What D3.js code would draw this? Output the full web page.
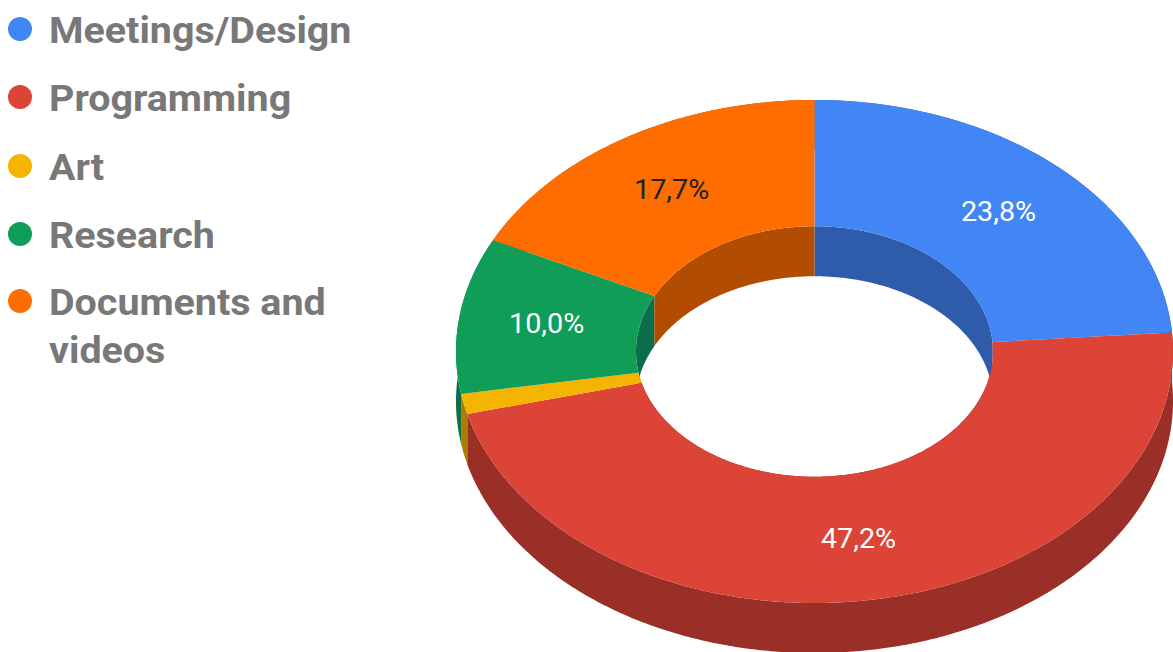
<!DOCTYPE html>
<html>
<head>
<meta charset="utf-8">
<script src="https://cdn.jsdelivr.net/npm/d3@7/dist/d3.min.js"></script>
<style>
  html, body { margin: 0; padding: 0; background: #fff; }
  svg { display: block; }
  text { font-family: Roboto, sans-serif; }
</style>
</head>
<body>
<svg id="chart" width="1173" height="652"></svg>
<script>
// Share of working time per activity, in percent
const categories = ["Meetings/Design", "Programming", "Art", "Research", "Documents and videos"];
const shares = [23.8, 47.2, 1.3, 10.0, 17.7];
const legendLines = [["Meetings/Design"], ["Programming"], ["Art"], ["Research"], ["Documents and", "videos"]];
const topColors = ["#4285f4", "#db4437", "#f4b400", "#0f9d58", "#ff6d00"];
const wallColors = ["#2e5cab", "#992f26", "#aa7e00", "#0a6e4a", "#b24c00"];
const labelColors = ["#ffffff", "#ffffff", "#ffffff", "#ffffff", "#222222"];

const width = 1173, height = 652;
const cx = 814.5, cy = 351.5, rx = 358.5, ry = 251.5;
const holeRatio = 0.498, labelRadius = 0.755, depth = 50;
const textStretch = 1.065; // the type is set slightly wide

const svg = d3.select("#chart").attr("viewBox", [0, 0, width, height]);

// Tilted ring: unit-circle coordinates are projected onto the screen ellipse
const px = d3.scaleLinear().domain([-1, 1]).range([cx - rx, cx + rx]);
const py = d3.scaleLinear().domain([-1, 1]).range([cy + ry, cy - ry]);
const pie = d3.pie().value(d => d).sort(null);
const slices = pie(shares);

const arcPts = (a0, a1, r, dy = 0) => {
  const n = Math.max(2, Math.ceil((a1 - a0) / 0.01));
  return d3.range(n + 1).map(i => {
    const a = a0 + (a1 - a0) * i / n;
    return [px(r * Math.sin(a)), py(r * Math.cos(a)) + dy];
  });
};
const line = d3.line();
const closed = pts => line(pts) + "Z";

// Inner walls sit at the back, then the outer walls, then the top faces
svg.append("g").selectAll("path").data(slices).join("path")
  .attr("fill", (d, i) => wallColors[i])
  .attr("d", d => closed([
    ...arcPts(d.startAngle, d.endAngle, holeRatio),
    ...arcPts(d.startAngle, d.endAngle, holeRatio, depth).reverse()
  ]));

svg.append("g").selectAll("path").data(slices).join("path")
  .attr("fill", (d, i) => wallColors[i])
  .attr("d", d => closed([
    ...arcPts(d.startAngle, d.endAngle, 1),
    ...arcPts(d.startAngle, d.endAngle, 1, depth).reverse()
  ]));

svg.append("g").selectAll("path").data(slices).join("path")
  .attr("fill", (d, i) => topColors[i])
  .attr("d", d => closed([
    ...arcPts(d.startAngle, d.endAngle, 1),
    ...arcPts(d.startAngle, d.endAngle, holeRatio).reverse()
  ]));

// Value labels, skipped for very thin slices
const fmt = v => v.toFixed(1).replace(".", ",") + "%";
svg.append("g").selectAll("text")
  .data(slices.filter(d => d.value >= 5)).join("text")
  .attr("transform", d => {
    const mid = (d.startAngle + d.endAngle) / 2;
    return `translate(${px(labelRadius * Math.sin(mid))},${py(labelRadius * Math.cos(mid))}) scale(${textStretch},1)`;
  })
  .attr("dy", "0.33em")
  .attr("text-anchor", "middle")
  .attr("font-size", 27)
  .attr("fill", d => labelColors[d.index])
  .text(d => fmt(d.value));

// Legend
const legendY = [43, 111, 180, 248, 315];
const legend = svg.append("g").selectAll("g").data(categories).join("g");
legend.append("circle")
  .attr("cx", 20)
  .attr("cy", (d, i) => legendY[i] - 14)
  .attr("r", 12)
  .attr("fill", (d, i) => topColors[i]);
legend.append("text")
  .attr("transform", `translate(49,0) scale(${textStretch},1)`)
  .attr("font-size", 37)
  .attr("font-weight", 700)
  .attr("fill", "#787878")
  .selectAll("tspan")
  .data((d, i) => legendLines[i].map((t, j) => ({ t, y: legendY[i] + j * 48 })))
  .join("tspan")
  .attr("x", 0)
  .attr("y", d => d.y)
  .text(d => d.t);
</script>
</body>
</html>
